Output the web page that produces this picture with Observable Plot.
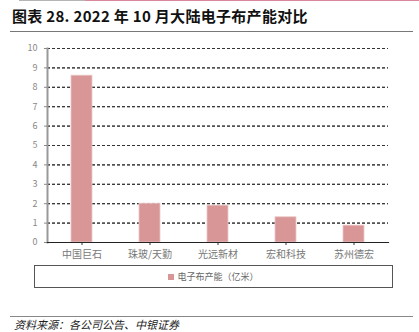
<!DOCTYPE html>
<html>
<head>
<meta charset="utf-8">
<script src="https://cdn.jsdelivr.net/npm/d3@7"></script>
<script src="https://cdn.jsdelivr.net/npm/@observablehq/plot@0.6"></script>
<style>
  html, body { margin: 0; padding: 0; background: #fff; font-family: "Noto Sans CJK SC", "Noto Sans", sans-serif; }
  #chart { height: 225px; margin-top: 36px; }
  #spacer { height: 200px; }
  #topbar1 { position: absolute; left: 19px; top: 0; width: 66px; height: 1px; background: #b5b5b5; }
  #topbar2 { position: absolute; left: 85px; top: 0; width: 334px; height: 1px; background: #d9879b; }
  #title { position: absolute; left: 12px; top: 1px; height: 30px; font-size: 15px; font-weight: bold; color: #111; white-space: nowrap; letter-spacing: 0.3px; line-height: 30px; }
  #titleline { position: absolute; left: 10px; top: 31px; width: 403px; height: 1px; background: #777; }
  #legend { position: absolute; left: 34px; top: 265px; width: 357px; height: 21px; border: 1px solid #555; font-size: 9px; color: #666; display: flex; align-items: center; justify-content: center; }
  #legend .sw { display: inline-block; width: 6px; height: 6px; background: #d89696; margin-right: 3px; }
  #srcline { position: absolute; left: 10px; top: 316px; width: 403px; height: 1px; background: #888; }
  #source { position: absolute; left: 14px; top: 318px; font-size: 11px; line-height: 13px; font-style: italic; color: #222; white-space: nowrap; }
</style>
</head>
<body>
  <div id="chart"></div>
  <div id="spacer"></div>
  <div id="topbar1"></div><div id="topbar2"></div>
  <div id="title">图表 28. 2022 年 10 月大陆电子布产能对比</div>
  <div id="titleline"></div>
  <div id="legend"><span class="sw"></span><span id="legendText"></span></div>
  <div id="srcline"></div>
  <div id="source">资料来源：各公司公告、中银证券</div>
<script>
const companies = ["中国巨石", "珠玻/天勤", "光远新材", "宏和科技", "苏州德宏"];
const capacity = [8.6, 2.0, 1.9, 1.3, 0.87];
const yTicks = [0, 1, 2, 3, 4, 5, 6, 7, 8, 9, 10];
const seriesName = "电子布产能（亿米）";

document.getElementById("legendText").textContent = seriesName;

const data = companies.map((c, i) => ({company: c, value: capacity[i]}));

const chart = Plot.plot({
  width: 419,
  height: 225,
  marginTop: 12,
  marginBottom: 19,
  marginLeft: 47,
  marginRight: 31,
  style: {fontFamily: "'Noto Sans CJK SC', sans-serif"},
  x: {domain: companies, paddingInner: 0.69, paddingOuter: 0.345, label: null},
  y: {domain: [0, 10], label: null},
  marks: [
    Plot.gridY({ticks: yTicks.filter(d => d > 0), stroke: "#333", strokeOpacity: 1, strokeDasharray: "3,2", strokeWidth: 1}),
    Plot.ruleY(yTicks.filter(d => d > 0), {stroke: "#333", strokeDasharray: "3,2", strokeWidth: 1}),
    Plot.barY(data, {x: "company", y: "value", fill: "#d89696", stroke: "#ecc9c9", strokeWidth: 0.8}),
    Plot.frame({anchor: "left", stroke: "#999", strokeWidth: 2}),
    Plot.axisY({ticks: yTicks, tickSize: 3, tickPadding: 7, stroke: "#888", fill: "#888", fontSize: 9, tickFormat: d => d}),
    Plot.axisX({tickSize: 3, tickPadding: 5, stroke: "#333", fill: "#777", fontSize: 10}),
    Plot.frame({anchor: "bottom", stroke: "#222", strokeWidth: 1.2})
  ]
});
chart.style.display = "block";
document.getElementById("chart").appendChild(chart);
</script>
</body>
</html>
